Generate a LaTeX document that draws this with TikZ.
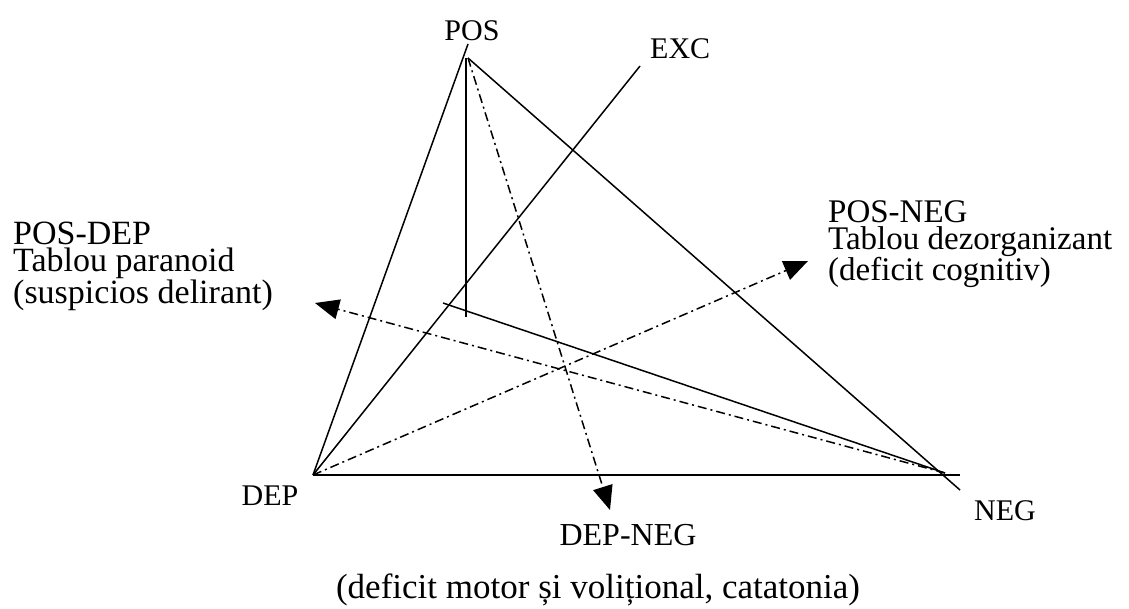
\documentclass[tikz,border=0pt]{standalone}
\usepackage{fontspec}
\setmainfont{Liberation Serif}
\usetikzlibrary{arrows.meta}
\begin{document}
\begin{tikzpicture}[x=1pt,y=-1pt,
  edge/.style={line width=1.5pt},
  dd/.style={line width=1.5pt, dash pattern=on 9pt off 4pt on 2pt off 4pt},
  arr/.style={-{Triangle[length=24pt,width=20pt]}},
  vlab/.style={font=\fontsize{30}{30}\selectfont, inner sep=0pt},
  blk/.style={font=\fontsize{34}{27}\selectfont, align=left, inner sep=0pt}]
\useasboundingbox (0,0) rectangle (1129,608);
\coordinate (P) at (468,58);
\coordinate (Ptop) at (468,44);
\coordinate (D) at (313,475);
\coordinate (N) at (945,473);
\coordinate (Nend) at (960,490);
\coordinate (Bend) at (960,475);
\coordinate (E) at (640,66);
\coordinate (Vt) at (466,58);
\coordinate (Vb) at (466,317);
\coordinate (S) at (443,303);
\coordinate (tPD) at (315,303);
\coordinate (tPN) at (808,261);
\coordinate (tDN) at (610,510);
% solid lines
\draw[edge] (D) -- (Ptop);
\draw[edge] (P) -- (Nend);
\draw[edge] (D) -- (Bend);
\draw[edge] (D) -- (E);
\draw[edge] (Vt) -- (Vb);
\draw[edge] (S) -- (N);
% dash-dot arrows
\draw[dd,arr] (N) -- (tPD);
\draw[dd,arr] (D) -- (tPN);
\draw[dd,arr] (P) -- (tDN);
% labels
\node[vlab, anchor=base] (lPOS) at (472,40) {POS};
\node[vlab, anchor=base west] (lEXC) at (650,58) {EXC};
\node[vlab, anchor=base] (lDEP) at (270,505) {DEP};
\node[vlab, anchor=base] (lNEG) at (1005,520) {NEG};
\node[inner sep=0pt, font=\fontsize{32}{32}\selectfont, anchor=base] (lDN) at (628,545) {DEP-NEG};
\node[inner sep=0pt, font=\fontsize{35}{35}\selectfont, anchor=base] (lBot) at (598,598) {(deficit motor și volițional, catatonia)};
\node[blk, anchor=north west] (lPD) at (13,222) {POS-DEP\\Tablou paranoid\\(suspicios delirant)};
\node[blk, font=\fontsize{33}{27}\selectfont, anchor=north west] (lPN) at (828,200) {POS-NEG\\Tablou dezorganizant\\(deficit cognitiv)};
\end{tikzpicture}
\end{document}
